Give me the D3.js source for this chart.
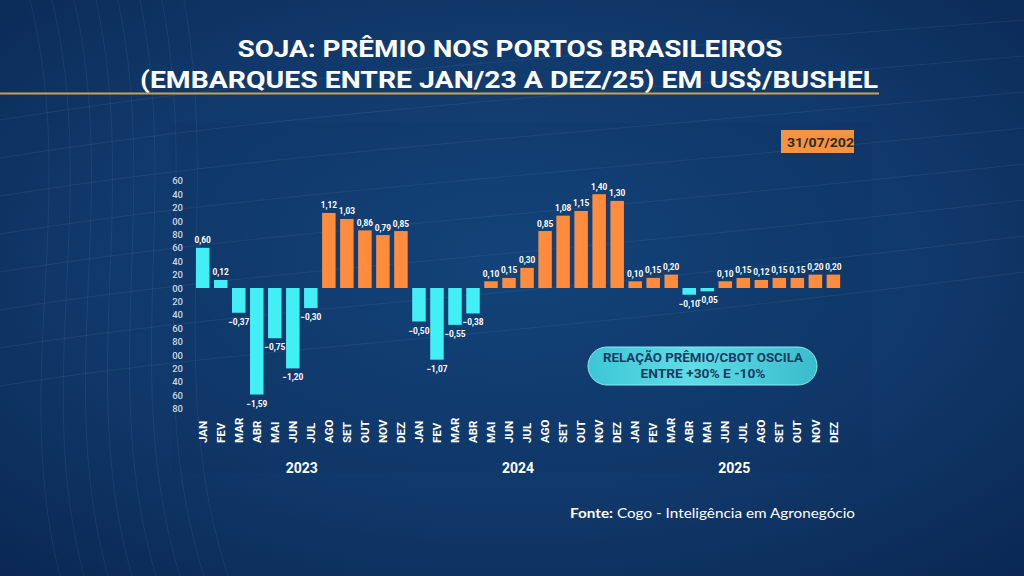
<!DOCTYPE html>
<html><head><meta charset="utf-8">
<script src="https://cdn.jsdelivr.net/npm/d3@7"></script>
<style>html,body{margin:0;padding:0;background:#0d3060;overflow:hidden}svg{display:block}</style>
</head><body>
<svg id="c" width="1024" height="576"></svg>
<script>
const months = ["JAN","FEV","MAR","ABR","MAI","JUN","JUL","AGO","SET","OUT","NOV","DEZ"];
const years = ["2023","2024","2025"];
const values2023 = [0.60,0.12,-0.37,-1.59,-0.75,-1.20,-0.30,1.12,1.03,0.86,0.79,0.85];
const values2024 = [-0.50,-1.07,-0.55,-0.38,0.10,0.15,0.30,0.85,1.08,1.15,1.40,1.30];
const values2025 = [0.10,0.15,0.20,-0.10,-0.05,0.10,0.15,0.12,0.15,0.15,0.20,0.20];
// series membership per bar: "a" = cyan series, "b" = orange series
const series2023 = ["a","a","a","a","a","a","a","b","b","b","b","b"];
const series2024 = ["a","a","a","a","b","b","b","b","b","b","b","b"];
const series2025 = ["b","b","b","a","a","b","b","b","b","b","b","b"];
const yTicks = [1.6,1.4,1.2,1.0,0.8,0.6,0.4,0.2,0,-0.2,-0.4,-0.6,-0.8,-1.0,-1.2,-1.4,-1.6,-1.8];
const titleLines = ["SOJA: PRÊMIO NOS PORTOS BRASILEIROS","(EMBARQUES ENTRE JAN/23 A DEZ/25) EM US$/BUSHEL"];
const dateText = "31/07/202";
const noteLines = ["RELAÇÃO PRÊMIO/CBOT OSCILA","ENTRE +30% E -10%"];

const allVals = [values2023, values2024, values2025];
const allSeries = [series2023, series2024, series2025];
const data = [];
years.forEach((yr, yi) => months.forEach((m, mi) => data.push({key: yr + "-" + m, month: m, year: yr, v: allVals[yi][mi], s: allSeries[yi][mi]})));

const svg = d3.select("#c");
const defs = svg.append("defs");
const bg = defs.append("radialGradient").attr("id","bg").attr("cx","50%").attr("cy","45%").attr("r","75%");
bg.append("stop").attr("offset","0%").attr("stop-color","#15457d");
bg.append("stop").attr("offset","60%").attr("stop-color","#103768");
bg.append("stop").attr("offset","100%").attr("stop-color","#0a2752");
const pill = defs.append("linearGradient").attr("id","pill").attr("x1","0").attr("x2","1");
pill.append("stop").attr("offset","0%").attr("stop-color","#3cc6d6");
pill.append("stop").attr("offset","45%").attr("stop-color","#5fdde6");
pill.append("stop").attr("offset","100%").attr("stop-color","#39bccd");

svg.append("rect").attr("width",1024).attr("height",576).attr("fill","url(#bg)");
// faint contour decoration
const deco = svg.append("g").attr("fill","none").attr("stroke","#ffffff").attr("stroke-opacity",0.06).attr("stroke-width",1);
[0,1,2,3,4,5,6,7].forEach(i => {
  deco.append("path").attr("d", `M0 ${120+i*38} C 250 ${80+i*38}, 500 ${60+i*40}, 1024 ${20+i*36}`);
  deco.append("path").attr("d", `M${30+i*22} 0 C ${80+i*20} 200, ${10+i*22} 380, ${60+i*24} 576`);
});
// faint plot panel
svg.append("rect").attr("x",172).attr("y",123).attr("width",700).attr("height",350).attr("fill","#061c3f").attr("opacity",0.06);

// Title
const titleG = svg.append("g").attr("fill","#ffffff").attr("font-family","Roboto, sans-serif").attr("font-weight",700).attr("text-anchor","middle");
titleG.append("text").attr("x",510).attr("y",57).attr("font-size",24).attr("textLength",545).attr("lengthAdjust","spacingAndGlyphs").text(titleLines[0]);
titleG.append("text").attr("x",509).attr("y",88).attr("font-size",24).attr("textLength",738).attr("lengthAdjust","spacingAndGlyphs").text(titleLines[1]);
svg.append("line").attr("x1",0).attr("x2",879).attr("y1",93.5).attr("y2",93.5).attr("stroke","#c9a24e").attr("stroke-width",2.2);

// Date box
svg.append("rect").attr("x",781).attr("y",130).attr("width",73).attr("height",23).attr("fill","#f7923f");
svg.append("text").attr("x",787).attr("y",146.5).attr("font-family","Roboto, sans-serif").attr("font-weight",700).attr("font-size",13).attr("fill","#2b2b2b").attr("textLength",67).attr("lengthAdjust","spacingAndGlyphs").text(dateText);

// scales
const x = d3.scaleBand().domain(data.map(d => d.key)).range([193.7, 842.4]).paddingInner(0.25).paddingOuter(0.125);
const y = d3.scaleLinear().domain([-1.8, 1.6]).range([408.6, 180.8]);
const color = d3.scaleOrdinal().domain(["a","b"]).range(["#42eff6","#ff8b3d"]);
const fmt = v => d3.format(".2f")(v).replace(".", ",");

// y axis
const yAxis = d3.axisLeft(y).tickValues(yTicks).tickSize(0).tickPadding(0).tickFormat(v => fmt(v).slice(-2));
const ya = svg.append("g").attr("transform","translate(183,0)").call(yAxis);
ya.select(".domain").remove();
ya.selectAll("text").attr("font-family","Roboto, sans-serif").attr("font-weight",500).attr("font-size",9.5).attr("fill","#c9d6e6");

// bars
svg.append("g").selectAll("rect").data(data).join("rect")
  .attr("x", d => x(d.key)).attr("width", x.bandwidth())
  .attr("y", d => y(Math.max(0, d.v))).attr("height", d => Math.abs(y(d.v) - y(0)))
  .attr("fill", d => color(d.s));

// value labels
svg.append("g").selectAll("text").data(data).join("text")
  .attr("x", d => x(d.key) + x.bandwidth()/2)
  .attr("y", d => d.v >= 0 ? y(d.v) - 4.5 : y(d.v) + 12)
  .attr("text-anchor","middle").attr("font-family","Roboto, sans-serif").attr("font-weight",700).attr("font-size",8.3).attr("fill","#ffffff")
  .text(d => fmt(d.v));

// x axis (month labels)
const xAxis = d3.axisBottom(x).tickSize(0).tickPadding(0).tickFormat(k => k.split("-")[1]);
const xa = svg.append("g").attr("transform","translate(0,443)").call(xAxis);
xa.select(".domain").remove();
xa.selectAll("text").attr("transform","rotate(-90)").attr("x",0).attr("y",0).attr("dy","0.36em").attr("text-anchor","start")
  .attr("font-family","Roboto, sans-serif").attr("font-weight",700).attr("font-size",11.5).attr("fill","#ffffff");

// year labels
svg.append("g").selectAll("text").data(years).join("text")
  .attr("x", yr => { const ks = data.filter(d => d.year === yr); return (x(ks[0].key) + x(ks[ks.length-1].key) + x.bandwidth())/2; })
  .attr("y", 473).attr("text-anchor","middle").attr("font-family","Roboto, sans-serif").attr("font-weight",700).attr("font-size",14).attr("fill","#ffffff")
  .text(d => d);

// note pill
svg.append("rect").attr("x",588).attr("y",347).attr("width",229).attr("height",38).attr("rx",19).attr("fill","url(#pill)").attr("stroke","#8cecf2").attr("stroke-width",1);
const nt = svg.append("g").attr("text-anchor","middle").attr("font-family","Roboto, sans-serif").attr("font-weight",700).attr("font-size",12.5).attr("fill","#1b3a62");
nt.append("text").attr("x",703).attr("y",362).attr("textLength",200).attr("lengthAdjust","spacingAndGlyphs").text(noteLines[0]);
nt.append("text").attr("x",703).attr("y",378).attr("textLength",125).attr("lengthAdjust","spacingAndGlyphs").text(noteLines[1]);

// source
const src = svg.append("text").attr("x",570).attr("y",518).attr("font-family","Lato, sans-serif").attr("font-size",14).attr("fill","#ffffff").attr("textLength",285).attr("lengthAdjust","spacingAndGlyphs");
src.append("tspan").attr("font-weight",700).text("Fonte:");
src.append("tspan").text(" Cogo - Inteligência em Agronegócio");
</script>
</body></html>
